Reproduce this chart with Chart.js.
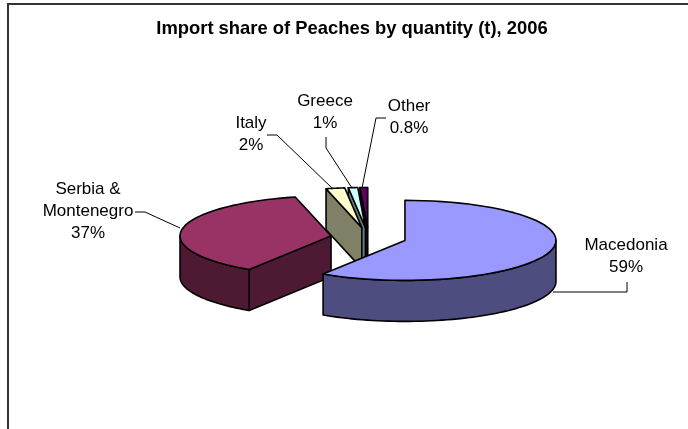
<!DOCTYPE html>
<html>
<head>
<meta charset="utf-8">
<title>Import share of Peaches</title>
<style>
    html, body { margin: 0; padding: 0; background: #fff; overflow: hidden; }
    #frame { position: absolute; left: 7px; top: 3px; width: 700px; height: 450px; border: 2px solid #333; }
</style>
</head>
<body>
<div id="frame"><canvas id="pieChart" width="686" height="440"></canvas></div>
<script src="https://cdn.jsdelivr.net/npm/chart.js@4"></script>
<script>
const categories = ["Macedonia", "Serbia & Montenegro", "Italy", "Greece", "Other"];
const shares = [59, 37, 2, 1, 0.8];
const topColors = ["#9999ff", "#993366", "#ffffcc", "#ccffff", "#660066"];
const sideColors = ["#4d4d80", "#4d1933", "#808066", "#668080", "#330033"];
const labelLines = [["Macedonia"], ["Serbia &", "Montenegro"], ["Italy"], ["Greece"], ["Other"]];

// label centre and leader line for each slice, in page pixels
const labelSpots = [
    { x: 626, y: 245, leader: [[627, 282], [627, 292], [553, 292]] },
    { x: 88, y: 189, leader: [[135, 212], [145, 212], [180, 228]] },
    { x: 251, y: 123, leader: [[267, 135], [277, 135], [332, 188]] },
    { x: 325, y: 101, leader: [[326, 137], [326, 148], [352, 188]] },
    { x: 409, y: 106, leader: [[386, 118], [376, 118], [362, 188]] }
];

const squash = 0.265;
const depth = 41;

function sliceGeometry(arc) {
    const mid = (arc.startAngle + arc.endAngle) / 2;
    const off = arc.options.offset;
    return {
        cx: arc.x + Math.cos(mid) * off,
        cy: arc.y + Math.sin(mid) * off * squash,
        r: arc.outerRadius,
        a1: arc.startAngle,
        a2: arc.endAngle,
        mid: mid
    };
}

function rimPath(ctx, g, from, to, dy) {
    for (let i = 0; i <= 60; i++) {
        const a = from + (to - from) * i / 60;
        ctx.lineTo(g.cx + Math.cos(a) * g.r, g.cy + Math.sin(a) * g.r * squash + dy);
    }
}

function paintWall(ctx, g, a) {
    const px = g.cx + Math.cos(a) * g.r;
    const py = g.cy + Math.sin(a) * g.r * squash;
    ctx.beginPath();
    ctx.moveTo(g.cx, g.cy);
    ctx.lineTo(px, py);
    ctx.lineTo(px, py + depth);
    ctx.lineTo(g.cx, g.cy + depth);
    ctx.closePath();
    ctx.fill();
    ctx.stroke();
}

const pie3d = {
    id: "pie3d",
    afterLayout(chart) {
        // pie sits right of the title centre
        chart.chartArea.left += 33;
    },
    beforeDatasetDraw(chart, args) {
        const ctx = chart.ctx;
        const arcs = chart.getDatasetMeta(args.index).data.map((arc, i) => ({ i: i, g: sliceGeometry(arc) }));
        arcs.sort((p, q) => p.g.cy - q.g.cy);

        ctx.save();
        ctx.lineWidth = 1.6;
        ctx.strokeStyle = "#000";
        ctx.lineJoin = "round";
        arcs.forEach(item => {
            const g = item.g;
            ctx.fillStyle = sideColors[item.i];
            // flat sides that face the viewer
            if (Math.cos(g.a1) < 0) paintWall(ctx, g, g.a1);
            if (Math.cos(g.a2) > 0) paintWall(ctx, g, g.a2);
            // curved side, only the front half of the rim
            const from = Math.max(g.a1, 0);
            const to = Math.min(g.a2, Math.PI);
            if (to > from) {
                ctx.beginPath();
                rimPath(ctx, g, from, to, 0);
                rimPath(ctx, g, to, from, depth);
                ctx.closePath();
                ctx.fill();
                ctx.stroke();
            }
            // top face
            ctx.fillStyle = topColors[item.i];
            ctx.beginPath();
            ctx.moveTo(g.cx, g.cy);
            rimPath(ctx, g, g.a1, g.a2, 0);
            ctx.closePath();
            ctx.fill();
            ctx.stroke();
        });
        ctx.restore();
        return false;
    },
    afterDraw(chart) {
        const ctx = chart.ctx;
        const box = chart.canvas.getBoundingClientRect();
        ctx.save();
        ctx.translate(-box.left, -box.top);
        ctx.strokeStyle = "#000";
        ctx.lineWidth = 1;
        ctx.fillStyle = "#000";
        ctx.font = "17px 'Liberation Sans', Arial, sans-serif";
        ctx.textAlign = "center";
        ctx.textBaseline = "middle";
        labelSpots.forEach((spot, i) => {
            ctx.beginPath();
            spot.leader.forEach((p, k) => k ? ctx.lineTo(p[0], p[1]) : ctx.moveTo(p[0], p[1]));
            ctx.stroke();
            const lines = labelLines[i].concat([shares[i] + "%"]);
            lines.forEach((text, k) => ctx.fillText(text, spot.x, spot.y + k * 22));
        });
        ctx.restore();
    }
};

new Chart(document.getElementById("pieChart"), {
    type: "pie",
    data: {
        labels: categories,
        datasets: [{
            data: shares,
            backgroundColor: topColors,
            offset: 38,
            radius: 151
        }]
    },
    plugins: [pie3d],
    options: {
        responsive: false,
        animation: false,
        layout: { padding: { left: 0, right: 0, top: 0, bottom: 20 } },
        plugins: {
            legend: { display: false },
            tooltip: { enabled: false },
            title: {
                display: true,
                text: "Import share of Peaches by quantity (t), 2006",
                color: "#000",
                font: { family: "'Liberation Sans', Arial, sans-serif", size: 18.4, weight: "bold" },
                padding: { top: 13, bottom: 10 }
            }
        }
    }
});
</script>
</body>
</html>
